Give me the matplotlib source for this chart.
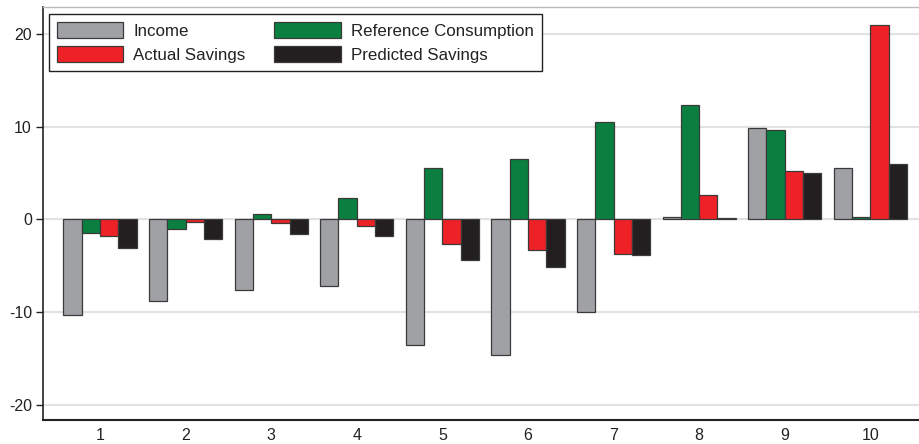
import matplotlib
matplotlib.use("Agg")
import matplotlib.pyplot as plt
import numpy as np

plt.rcParams['font.family'] = ['Liberation Sans', 'DejaVu Sans']
plt.rcParams['axes.unicode_minus'] = False

categories = [1, 2, 3, 4, 5, 6, 7, 8, 9, 10]
income = [-10.3, -8.8, -7.6, -7.2, -13.6, -14.7, -10.0, 0.25, 9.85, 5.5]
reference_consumption = [-1.5, -1.0, 0.6, 2.35, 5.5, 6.5, 10.5, 12.3, 9.6, 0.3]
actual_savings = [-1.8, -0.3, -0.35, -0.7, -2.7, -3.3, -3.7, 2.6, 5.2, 21.0]
predicted_savings = [-3.1, -2.1, -1.6, -1.75, -4.35, -5.1, -3.8, 0.1, 5.05, 6.0]

series = [
    ("Income", income, "#A0A1A5"),
    ("Reference Consumption", reference_consumption, "#0A7F40"),
    ("Actual Savings", actual_savings, "#EE2226"),
    ("Predicted Savings", predicted_savings, "#231F20"),
]

fig = plt.figure(figsize=(9.2, 4.44), dpi=100)
ax = fig.add_axes([43/920, 24/444, 1 - 43/920, (420-7)/444])

x = np.array(categories, dtype=float)
w = 0.214
handles = {}
for i, (name, vals, col) in enumerate(series):
    b = ax.bar(x + (i - 1.5) * w, vals, width=w, color=col,
               edgecolor="#3a3a3a", linewidth=0.9, zorder=3, label=name)
    handles[name] = b

ax.set_xlim(0.334, 10.58)
ax.set_ylim(-21.67, 22.93)
ax.set_yticks([-20, -10, 0, 10, 20])
ax.set_xticks(categories)
ax.set_xticklabels([str(c) for c in categories])
ax.yaxis.grid(True, color="#E2E2E2", linewidth=1.5, zorder=0)
ax.set_axisbelow(True)

ax.tick_params(axis='y', direction='out', length=5, width=1, color="#222222",
               labelsize=11.5, pad=3, labelcolor="#222222")
ax.tick_params(axis='x', length=0, labelsize=11.5, pad=6, labelcolor="#222222")

ax.spines['left'].set_color("#222222")
ax.spines['left'].set_linewidth(1.2)
ax.spines['bottom'].set_color("#222222")
ax.spines['bottom'].set_linewidth(1.5)
ax.spines['top'].set_color("#BBBBBB")
ax.spines['top'].set_linewidth(1.0)
ax.spines['right'].set_visible(False)

order = ["Income", "Actual Savings", "Reference Consumption", "Predicted Savings"]
leg = ax.legend([handles[n] for n in order], order, ncol=2, loc="upper left",
                bbox_to_anchor=(6/877, 1 - 7/413), fontsize=12.2, frameon=True,
                fancybox=False, edgecolor="#222222", framealpha=1,
                handlelength=3.9, handleheight=1.08, handletextpad=0.6,
                columnspacing=1.7, labelspacing=0.42, borderpad=0.48,
                borderaxespad=0)
leg.get_frame().set_linewidth(1.0)
for t in leg.get_texts():
    t.set_color("#222222")

fig.savefig("out.png", dpi=100)
